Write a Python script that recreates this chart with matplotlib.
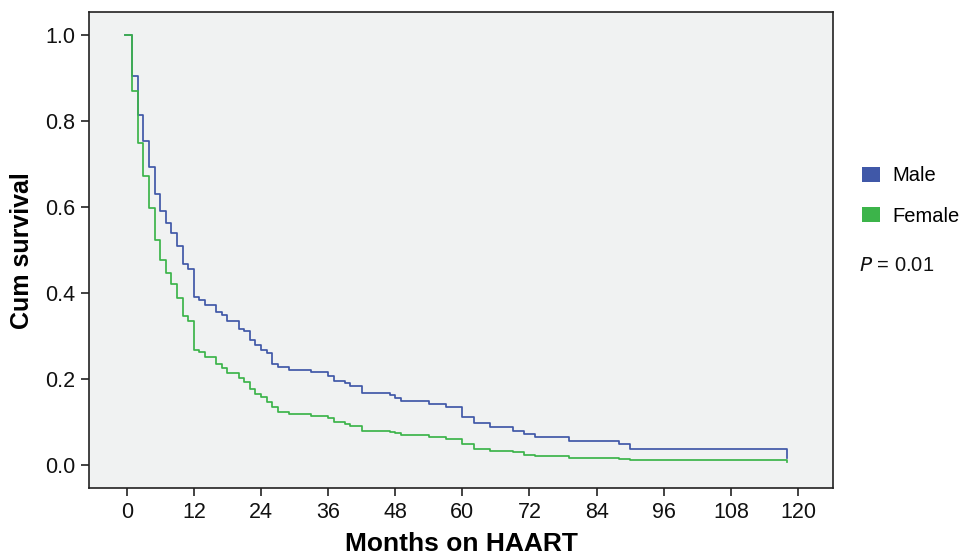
import matplotlib
matplotlib.use("Agg")
import matplotlib.pyplot as plt
from matplotlib.patches import Patch

plt.rcParams['font.family'] = ['Liberation Sans', 'DejaVu Sans']

# Event times (months on HAART)
times = [0, 1, 2, 3, 4, 5, 6, 7, 8, 9, 10, 11, 12, 13, 14, 16, 17, 18, 20, 21,
         22, 23, 24, 25, 26, 27, 29, 33, 36, 37, 39, 40, 42, 47, 48, 49, 54, 57,
         60, 62, 65, 69, 71, 73, 79, 88, 90, 118]

male_surv = [1.0, 0.905, 0.814, 0.753, 0.693, 0.631, 0.590, 0.562, 0.538, 0.509,
             0.468, 0.456, 0.389, 0.383, 0.372, 0.355, 0.349, 0.335, 0.315, 0.311,
             0.291, 0.278, 0.267, 0.259, 0.234, 0.228, 0.220, 0.215, 0.207, 0.195,
             0.189, 0.183, 0.167, 0.163, 0.156, 0.149, 0.142, 0.133, 0.111, 0.097,
             0.087, 0.077, 0.072, 0.064, 0.055, 0.048, 0.037, 0.016]

female_surv = [1.0, 0.870, 0.748, 0.672, 0.597, 0.523, 0.477, 0.445, 0.421, 0.388,
               0.346, 0.334, 0.267, 0.261, 0.251, 0.233, 0.225, 0.214, 0.201, 0.193,
               0.176, 0.164, 0.158, 0.145, 0.133, 0.123, 0.118, 0.114, 0.109, 0.099,
               0.095, 0.090, 0.079, 0.076, 0.073, 0.069, 0.065, 0.059, 0.047, 0.036,
               0.032, 0.028, 0.023, 0.019, 0.016, 0.013, 0.010, 0.005]

start_time = 0.0
x_ticks = [0, 12, 24, 36, 48, 60, 72, 84, 96, 108, 120]
y_ticks = [0.0, 0.2, 0.4, 0.6, 0.8, 1.0]
series_names = ["Male", "Female"]
p_text = "= 0.01"

blue = "#4058A8"
green = "#3CB44A"

fig = plt.figure(figsize=(9.63, 5.54), dpi=100)
ax = fig.add_axes([0.0924, 0.1186, 0.8653 - 0.0924, 0.9778 - 0.1186])
ax.set_facecolor("#F0F2F2")

def stepline(t, s):
    xs = [start_time - 0.3] + t[1:]
    return xs, s

mx, my = stepline(times, male_surv)
fx, fy = stepline(times, female_surv)
ax.step(mx, my, where='post', color=blue, lw=1.25)
ax.step(fx, fy, where='post', color=green, lw=1.25)

ax.set_xlim(-6.74, 126.3)
ax.set_ylim(-0.0554, 1.053)
ax.set_xticks(x_ticks)
ax.set_xticklabels([str(v) for v in x_ticks])
ax.set_yticks(y_ticks)
ax.set_yticklabels([f"{v:.1f}" for v in y_ticks])
ax.tick_params(axis='both', labelsize=15.5, length=6, width=1.2, color='#222222',
               labelcolor='#111111', pad=4)
for sp in ax.spines.values():
    sp.set_color('#222222')
    sp.set_linewidth(1.2)

ax.set_xlabel("Months on HAART", fontsize=19, fontweight='bold', labelpad=6)
ax.set_ylabel("Cum survival", fontsize=18, fontweight='bold', labelpad=8)

handles = [Patch(facecolor=blue, edgecolor='none', label=series_names[0]),
           Patch(facecolor=green, edgecolor='none', label=series_names[1])]
leg = fig.legend(handles=handles, loc='upper left', bbox_to_anchor=(0.8865, 0.714),
                 frameon=False, fontsize=14.5, handlelength=0.9, handleheight=0.8,
                 handletextpad=0.6, labelspacing=1.05, borderaxespad=0)
fig.text(0.892, 0.521, "$\\it{P}$ " + p_text, fontsize=14.5, va='center', ha='left',
         color='#111111')

fig.savefig("out.png", dpi=100)
